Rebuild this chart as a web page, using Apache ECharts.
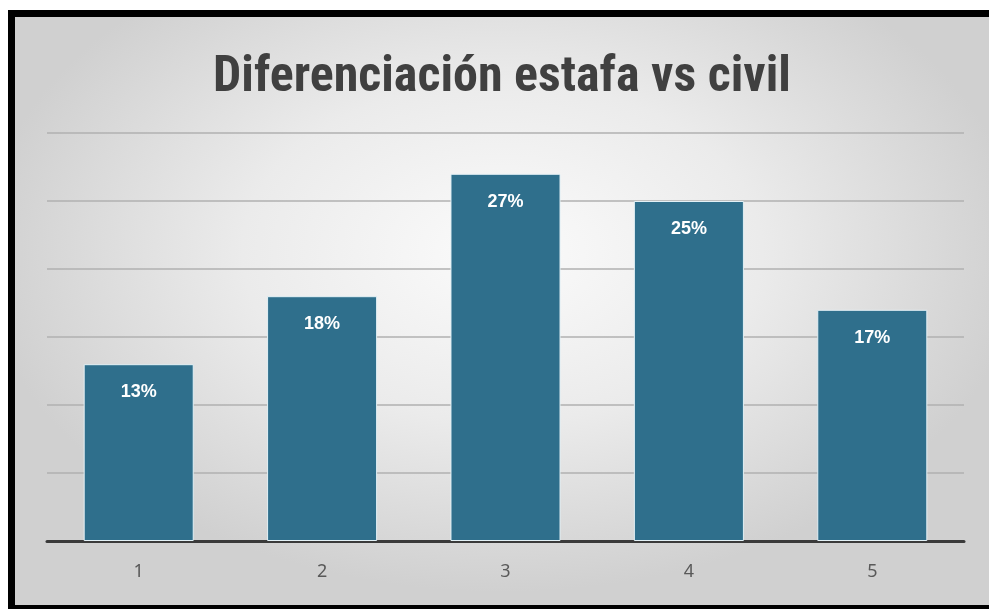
<!DOCTYPE html>
<html>
<head>
<meta charset="utf-8">
<script src="https://cdn.jsdelivr.net/npm/echarts@6/dist/echarts.min.js"></script>
<style>
html,body{margin:0;padding:0;background:#fff;width:100%;height:100%;overflow:hidden;}
#frame{position:absolute;left:8px;top:10px;right:-20px;height:599px;background:#000;}
#bg{position:absolute;left:15px;top:17px;right:-20px;height:588px;
background:radial-gradient(ellipse 520px 340px at 487px 235px, #fbfbfb 0%, #ebebeb 50%, #d0d0d0 100%);}
#chart{position:absolute;left:15px;top:17px;width:974px;height:588px;}
</style>
</head>
<body>
<div id="frame"></div>
<div id="bg"></div>
<div id="chart"></div>
<script>
const categories = ['1','2','3','4','5'];
const values = [13, 18, 27, 25, 17];
const titleText = 'Diferenciación estafa vs civil';

const chart = echarts.init(document.getElementById('chart'), null, {renderer:'canvas'});
chart.setOption({
  backgroundColor: 'transparent',
  animation: false,
  title: {
    text: titleText,
    left: 'center',
    top: 31,
    textStyle: {
      fontFamily: 'Liberation Sans Narrow, Arial Narrow, Roboto Condensed, sans-serif',
      fontWeight: 'bold',
      fontSize: 50,
      color: '#404040'
    }
  },
  grid: { left: 32, right: 25, top: 116, bottom: 64 },
  xAxis: {
    type: 'category',
    data: categories,
    axisLine: { show: true, lineStyle: { color: '#3a3a3a', width: 3 } },
    axisTick: { show: false },
    axisLabel: { color: '#595959', fontSize: 18, margin: 22, fontFamily: 'Noto Sans, sans-serif' }
  },
  yAxis: {
    type: 'value',
    min: 0, max: 30, interval: 5,
    axisLabel: { show: false },
    axisLine: { show: false },
    axisTick: { show: false },
    splitLine: { lineStyle: { color: '#b0b0b0', width: 1.5 } }
  },
  series: [{
    type: 'bar',
    data: values,
    barWidth: '60%',
    itemStyle: { color: '#2f6f8c', borderColor: '#e3f1f6', borderWidth: 1 },
    label: {
      show: true,
      position: 'insideTop',
      distance: 19,
      formatter: p => p.value + '%',
      color: '#ffffff',
      fontWeight: 'bold',
      fontSize: 18,
      fontFamily: 'Liberation Sans, Arial, sans-serif'
    }
  }]
});
</script>
</body>
</html>
